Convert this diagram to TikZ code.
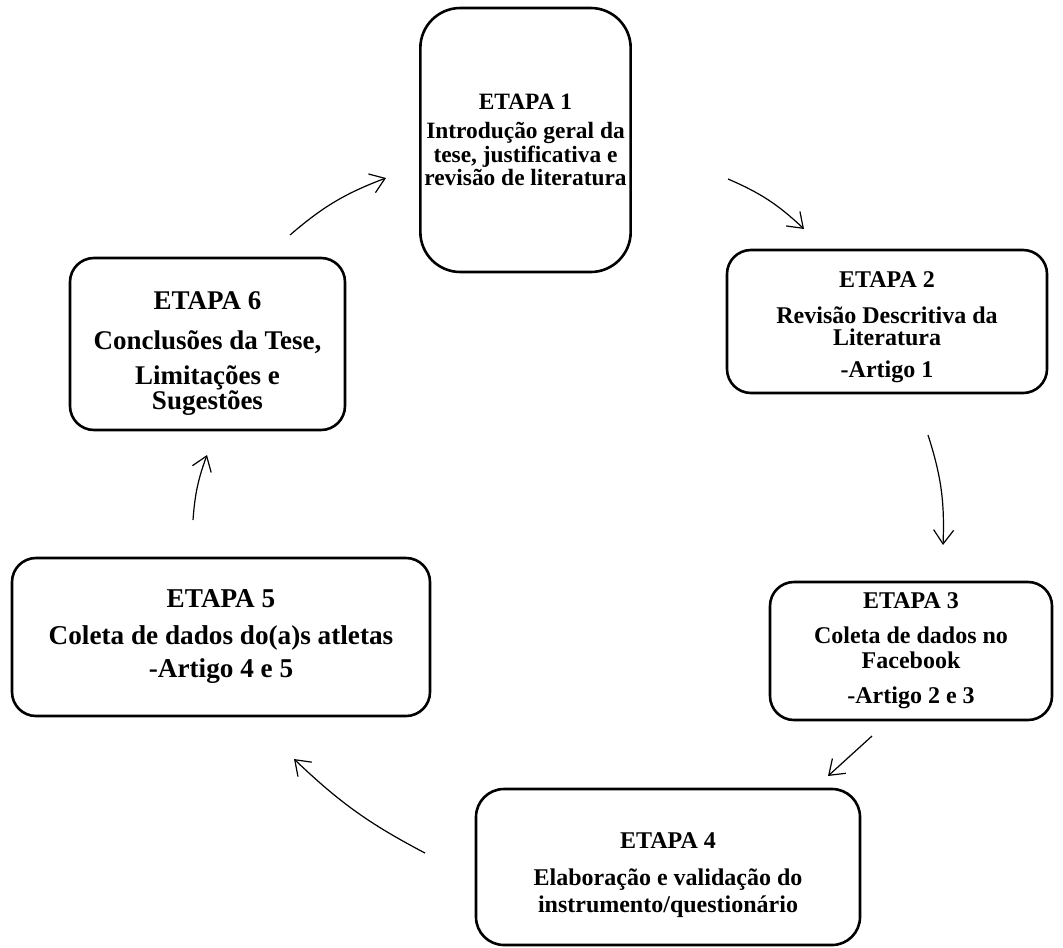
\documentclass[tikz,border=0pt]{standalone}
\usepackage{fontspec}
\setmainfont{Liberation Serif}
\usetikzlibrary{arrows.meta,positioning}

\begin{document}
\begin{tikzpicture}[
  x=0.5pt, y=-0.5pt,
  etapa/.style={draw, line width=1.3pt, rounded corners=12pt, align=center,
                font=\bfseries, inner sep=2pt},
  e/.style={-{Straight Barb[length=7pt,width=10pt]}, line width=0.6pt},
]
\useasboundingbox (0,0) rectangle (1063,947);

\node[etapa, rounded corners=20pt, minimum width=102.5pt, minimum height=132pt,
      font=\bfseries\fontsize{11.7}{9.8}\selectfont] (e1) at (525.5,140)
  {ETAPA 1\\[5pt]Introdução geral da\\tese, justificativa e\\revisão de literatura};
\node[etapa, minimum width=160pt, minimum height=71.5pt,
      font=\bfseries\fontsize{12}{11}\selectfont] (e2) at (887,321.5)
  {\rule{0pt}{14pt}ETAPA 2\\[7pt]Revisão Descritiva da\\Literatura\\[5pt]-Artigo 1};
\node[etapa, minimum width=141pt, minimum height=69pt,
      font=\bfseries\fontsize{12}{12.5}\selectfont] (e3) at (911,651)
  {ETAPA 3\\[5pt]Coleta de dados no\\Facebook\\[5pt]-Artigo 2 e 3};
\node[etapa, rounded corners=14pt, minimum width=192pt, minimum height=78pt,
      font=\bfseries\fontsize{12}{13.5}\selectfont] (e4) at (668,867)
  {\rule{0pt}{16pt}ETAPA 4\\[5pt]Elaboração e validação do\\instrumento/questionário};
\node[etapa, minimum width=209pt, minimum height=79pt,
      font=\bfseries\fontsize{13.6}{16.5}\selectfont] (e5) at (221,637)
  {ETAPA 5\\[2pt]Coleta de dados do(a)s atletas\\-Artigo 4 e 5};
\node[etapa, minimum width=137.5pt, minimum height=86pt,
      font=\bfseries\fontsize{13.5}{12.5}\selectfont] (e6) at (207.5,344)
  {\rule{0pt}{18pt}ETAPA 6\\[7.5pt]Conclusões da Tese,\\[5pt]Limitações e\\Sugestões};

% arrow ends
\coordinate (s61) at (290,235);  \coordinate (t61) at (386,178);
\coordinate (s12) at (728,179);  \coordinate (t12) at (804,229);
\coordinate (s23) at (928,435);  \coordinate (t23) at (943,545);
\coordinate (s34) at (872,736);  \coordinate (t34) at (828,776);
\coordinate (s45) at (425,853);  \coordinate (t45) at (294,759);
\coordinate (s56) at (193,520);  \coordinate (t56) at (207,455);

\draw[e] (s61) to[bend left=10] (t61);
\draw[e] (s12) to[bend left=10] (t12);
\draw[e] (s23) to[bend left=10] (t23);
\draw[e] (s34) -- (t34);
\draw[e] (s45) to[bend left=8] (t45);
\draw[e] (s56) to[bend left=8] (t56);
\end{tikzpicture}
\end{document}
